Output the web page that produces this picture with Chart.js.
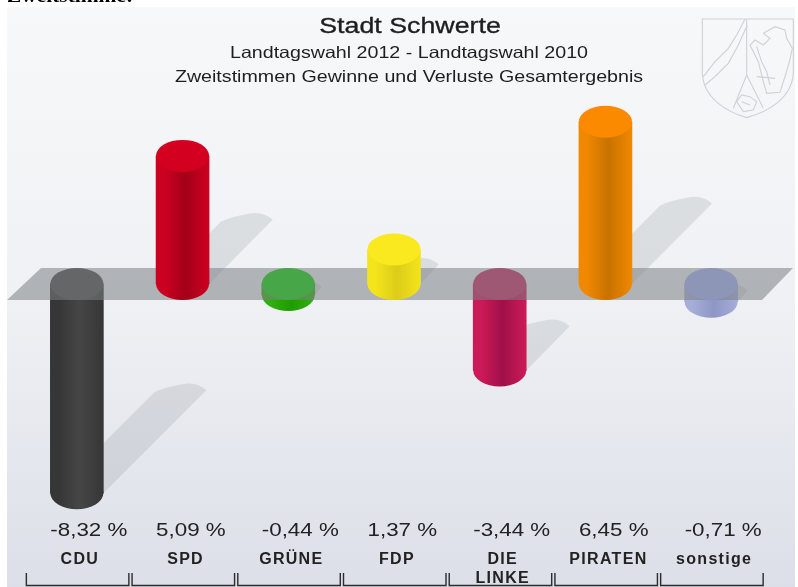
<!DOCTYPE html>
<html lang="de">
<head>
<meta charset="UTF-8">
<title>Stadt Schwerte</title>
<script src="https://cdn.jsdelivr.net/npm/chart.js"></script>
<style>
    html, body { margin: 0; padding: 0; background: #fff; overflow: hidden; }
    #wrap { width: 798px; height: 587px; filter: blur(0.45px); }
</style>
</head>
<body>
<div id="wrap"><canvas id="chart" width="798" height="587"></canvas></div>
<script>
const pageNote = 'Zweitstimme:';
const titleLines = ['Stadt Schwerte', 'Landtagswahl 2012 - Landtagswahl 2010', 'Zweitstimmen Gewinne und Verluste Gesamtergebnis'];
const categories = ['CDU', 'SPD', 'GRÜNE', 'FDP', ['DIE', 'LINKE'], 'PIRATEN', 'sonstige'];
const values = [-8.32, 5.09, -0.44, 1.37, -3.44, 6.45, -0.71];

// cylinder colours per party: top ellipse, side edge, darker middle
const capColors = ['#484848', '#d40020', '#08d400', '#fbe920', '#c8285f', '#fb8a00', '#a4b2f5'];
const edgeColors = ['#363636', '#cc0020', '#30b010', '#f4e41c', '#cc1a58', '#f08800', '#a6add8'];
const coreColors = ['#464646', '#a40018', '#209c00', '#dccc18', '#a01048', '#c87200', '#8e96c4'];

const gains = values.map(v => v > 0 ? v : null);
const losses = values.map(v => v < 0 ? v : null);

const barW = 53;
const capRy = 16;
const xStretch = 1.19; // the source picture is wider than its fonts

function sideFill(ctx) {
    const i = ctx.dataIndex;
    const scale = ctx.chart.scales.x;
    if (i === undefined || !scale) return edgeColors[0];
    const mid = scale.getPixelForValue(i);
    if (!Number.isFinite(mid)) return edgeColors[i];
    const g = ctx.chart.ctx.createLinearGradient(mid - barW / 2, 0, mid + barW / 2, 0);
    g.addColorStop(0, edgeColors[i]);
    g.addColorStop(0.15, edgeColors[i]);
    g.addColorStop(0.55, coreColors[i]);
    g.addColorStop(1, edgeColors[i]);
    return g;
}

function stretched(ctx, text, x, y, align, heavy) {
    ctx.save();
    ctx.translate(x, y);
    ctx.scale(xStretch, 1);
    ctx.textAlign = align;
    ctx.fillText(text, 0, 0);
    if (heavy) {
        ctx.strokeStyle = ctx.fillStyle;
        ctx.lineWidth = 0.35;
        ctx.strokeText(text, 0, 0);
    }
    ctx.restore();
}

function polyline(ctx, pts, close) {
    ctx.beginPath();
    pts.forEach((p, i) => i ? ctx.lineTo(p[0], p[1]) : ctx.moveTo(p[0], p[1]));
    if (close) ctx.closePath();
    ctx.stroke();
}

function drawEmblem(ctx) {
    ctx.save();
    ctx.translate(695, 5);
    ctx.scale(1 / 3, 1 / 3);
    ctx.strokeStyle = '#cfd2d6';
    ctx.lineWidth = 3.4;
    ctx.beginPath();
    ctx.moveTo(22, 42);
    ctx.lineTo(295, 42);
    ctx.lineTo(295, 205);
    ctx.bezierCurveTo(290, 280, 220, 320, 155, 338);
    ctx.bezierCurveTo(95, 320, 25, 280, 22, 205);
    ctx.closePath();
    ctx.stroke();
    polyline(ctx, [[155, 42], [155, 210]]);
    polyline(ctx, [[150, 42], [125, 90], [100, 130], [60, 170], [25, 215]]);
    polyline(ctx, [[157, 60], [130, 120], [100, 175], [60, 215], [30, 240]]);
    polyline(ctx, [[205, 85], [240, 65], [270, 75], [275, 100], [292, 130], [282, 175], [270, 215], [255, 262], [215, 265], [205, 230], [190, 170], [165, 120], [180, 105], [205, 120], [225, 100], [205, 85]]);
    polyline(ctx, [[185, 125], [200, 170], [215, 200], [225, 240]]);
    polyline(ctx, [[185, 215], [240, 220]]);
    polyline(ctx, [[155, 210], [115, 310]]);
    polyline(ctx, [[155, 210], [205, 310]]);
    polyline(ctx, [[125, 290], [140, 270], [165, 275], [185, 290], [175, 315], [145, 320], [125, 290]]);
    polyline(ctx, [[140, 290], [165, 300]]);
    ctx.restore();
}

// diagonal shadow behind each cylinder, starting at its lower end
function drawShadow(ctx, chart, i) {
    const x = chart.scales.x.getPixelForValue(i);
    const y = chart.scales.y.getPixelForValue(Math.min(values[i], 0));
    const size = Math.abs(values[i]);
    const right = x + barW / 2;
    const tipX = x + 28 + 12.2 * size;
    const tipY = y - 3 - 12 * size;
    const upperX = tipX - 52;
    const upperY = tipY + 2;
    ctx.beginPath();
    ctx.moveTo(right, y);
    ctx.lineTo(tipX, tipY);
    ctx.quadraticCurveTo(tipX - 10, tipY - 9, tipX - 24, tipY - 6);
    ctx.quadraticCurveTo(tipX - 42, tipY - 3, upperX, upperY);
    if (upperX > right) ctx.lineTo(right, upperY + upperX - right);
    ctx.closePath();
    ctx.fill();
}

const cylinderPlugin = {
    id: 'cylinder',
    beforeDraw(chart) {
        const ctx = chart.ctx;
        ctx.save();
        ctx.fillStyle = '#fff';
        ctx.fillRect(0, 0, 798, 587);
        ctx.fillStyle = '#000';
        ctx.font = 'bold 18px "Liberation Serif"';
        stretched(ctx, pageNote, 7, 2, 'left');
        const bg = ctx.createLinearGradient(0, 7, 0, 587);
        bg.addColorStop(0, '#f6f8fa');
        bg.addColorStop(0.5, '#eff1f4');
        bg.addColorStop(1, '#dcdfe8');
        ctx.fillStyle = bg;
        ctx.fillRect(7, 7, 788, 580);
        ctx.fillStyle = '#1e1e1e';
        ctx.font = '22.5px "Liberation Sans"';
        stretched(ctx, titleLines[0], 410, 33, 'center', true);
        ctx.font = '16.5px "Liberation Sans"';
        stretched(ctx, titleLines[1], 409, 58, 'center');
        stretched(ctx, titleLines[2], 409, 82, 'center');
        ctx.restore();
        ctx.letterSpacing = '1.3px';
    },
    beforeDatasetsDraw(chart) {
        const ctx = chart.ctx;
        drawEmblem(ctx);
        ctx.save();
        ctx.fillStyle = 'rgba(120,125,132,0.18)';
        values.forEach((v, i) => drawShadow(ctx, chart, i));
        ctx.restore();
    },
    beforeDatasetDraw(chart, args) {
        if (args.index !== 0) return;
        // the zero plane lies over the losses and under the gains
        const ctx = chart.ctx;
        const zero = chart.scales.y.getPixelForValue(0);
        ctx.save();
        ctx.fillStyle = 'rgba(124,127,131,0.55)';
        ctx.beginPath();
        ctx.moveTo(41, zero - capRy);
        ctx.lineTo(793, zero - capRy);
        ctx.lineTo(762, zero + capRy);
        ctx.lineTo(7, zero + capRy);
        ctx.closePath();
        ctx.fill();
        ctx.restore();
    },
    afterDatasetDraw(chart, args) {
        const ctx = chart.ctx;
        const zero = chart.scales.y.getPixelForValue(0);
        const own = args.index === 0 ? gains : losses;
        args.meta.data.forEach((bar, i) => {
            if (own[i] === null) return;
            const low = own[i] < 0 ? bar.y : zero;
            const high = own[i] < 0 ? zero : bar.y;
            ctx.save();
            ctx.fillStyle = bar.options.backgroundColor;
            ctx.beginPath();
            ctx.ellipse(bar.x, low, barW / 2, capRy, 0, 0, Math.PI);
            ctx.rect(bar.x - barW / 2, low - 1.5, barW, 2);
            ctx.fill();
            ctx.fillStyle = capColors[i];
            ctx.beginPath();
            ctx.ellipse(bar.x, high, barW / 2, capRy, 0, 0, Math.PI * 2);
            ctx.fill();
            ctx.restore();
        });
    },
    afterDraw(chart) {
        const ctx = chart.ctx;
        ctx.save();
        ctx.letterSpacing = '0px';
        ctx.fillStyle = '#222';
        ctx.font = '18.8px "Liberation Sans"';
        ctx.textBaseline = 'alphabetic';
        values.forEach((v, i) => {
            const x = chart.scales.x.getPixelForValue(i);
            const label = v.toFixed(2).replace('.', ',') + ' %';
            stretched(ctx, label, x - barW / 2, 536, 'left');
        });
        ctx.strokeStyle = '#2c2c2c';
        ctx.lineWidth = 1.4;
        values.forEach((v, i) => {
            const x = chart.scales.x.getPixelForValue(i);
            polyline(ctx, [[x - 50.5, 573], [x - 50.5, 585.5], [x + 52, 585.5], [x + 52, 573]]);
        });
        ctx.restore();
    }
};

new Chart(document.getElementById('chart'), {
    type: 'bar',
    data: {
        labels: categories,
        datasets: [
            { data: gains, order: 1, grouped: false, barThickness: barW, borderWidth: 0, backgroundColor: sideFill },
            { data: losses, order: 2, grouped: false, barThickness: barW, borderWidth: 0, backgroundColor: sideFill }
        ]
    },
    options: {
        responsive: false,
        animation: false,
        events: [],
        layout: { padding: { left: 24, right: 34, top: 7, bottom: 0 } },
        plugins: { legend: { display: false }, tooltip: { enabled: false } },
        scales: {
            x: {
                grid: { display: false, drawTicks: false },
                border: { display: false },
                afterFit(scale) { scale.height = 39; },
                ticks: {
                    autoSkip: false,
                    maxRotation: 0,
                    padding: 2,
                    labelOffset: 3,
                    color: '#222',
                    font: { family: '"Liberation Sans"', size: 16, weight: 'bold', lineHeight: 1.2 }
                }
            },
            y: { display: false, min: -10.5, max: 11.01 }
        }
    },
    plugins: [cylinderPlugin]
});
</script>
</body>
</html>
